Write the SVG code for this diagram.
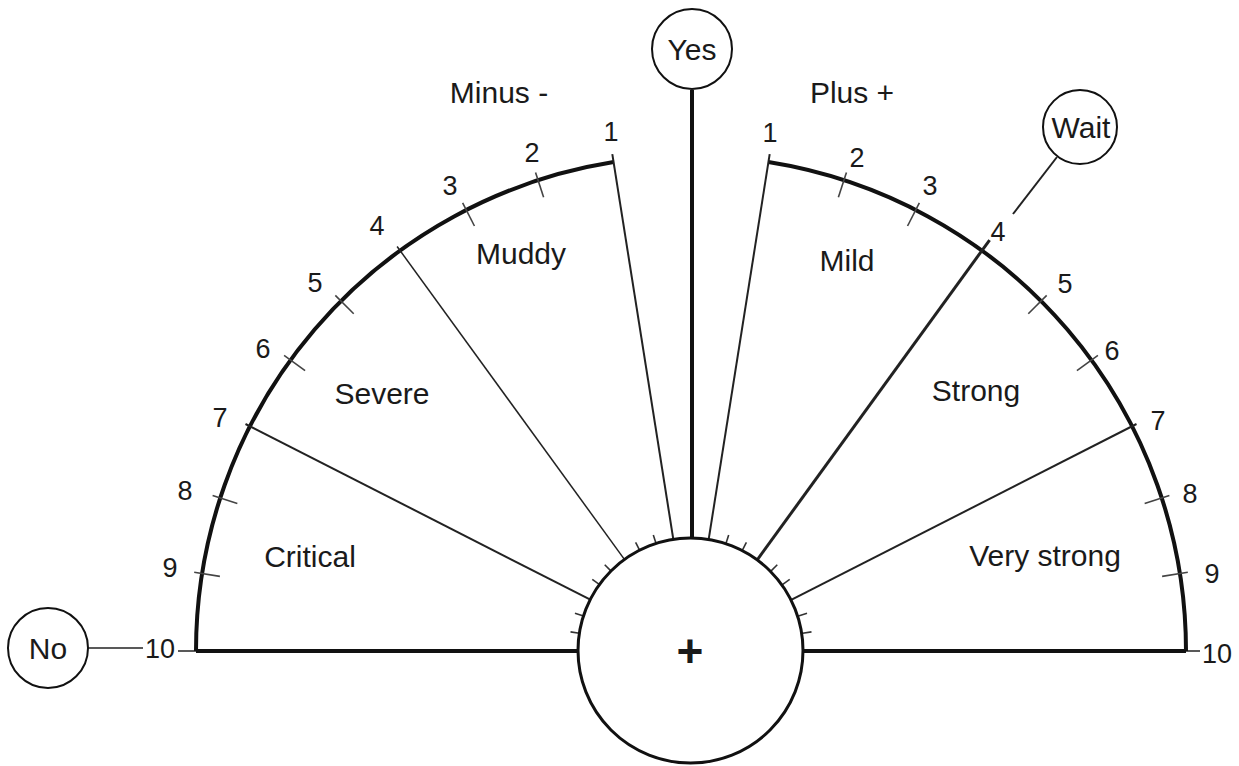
<svg xmlns="http://www.w3.org/2000/svg" width="1239" height="766" viewBox="0 0 1239 766">
<style>
  .t{font-family:"Liberation Sans",Arial,sans-serif;fill:#1a1a1a;text-anchor:middle}
  .num{font-size:27px}
  .lab{font-size:30px}
  .node{fill:#fff;stroke:#111;stroke-width:2}
  .arc{fill:none;stroke:#111;stroke-width:4}
  .base{stroke:#111;stroke-width:4}
  .rad{stroke:#222;stroke-width:2}
  .tick{stroke:#444;stroke-width:1.6}
  .itick{stroke:#333;stroke-width:1.6}
  .thin{stroke:#222;stroke-width:1.5}
</style>
<rect width="1239" height="766" fill="#fff"/>
<g id="connectors">
  <line class="base" x1="196" y1="651" x2="579" y2="651"/>
  <line class="base" x1="803" y1="651" x2="1186" y2="651"/>
  <line class="thin" x1="178" y1="651" x2="196" y2="651"/>
  <line class="thin" x1="1186" y1="651" x2="1200" y2="651"/>
  <path class="arc" d="M196 651 A495 495 0 0 1 613.6 162.1"/>
  <path class="arc" d="M768.4 162.1 A495 495 0 0 1 1186 651"/>
  <g transform="translate(691,651)">
    <g class="tick">
      <line x1="0" y1="-477" x2="0" y2="-503" transform="rotate(-18)"/>
      <line x1="0" y1="-477" x2="0" y2="-503" transform="rotate(-27)"/>
      <line x1="0" y1="-477" x2="0" y2="-503" transform="rotate(-45)"/>
      <line x1="0" y1="-477" x2="0" y2="-503" transform="rotate(-54)"/>
      <line x1="0" y1="-477" x2="0" y2="-503" transform="rotate(-72)"/>
      <line x1="0" y1="-477" x2="0" y2="-503" transform="rotate(-81)"/>
      <line x1="0" y1="-477" x2="0" y2="-503" transform="rotate(18)"/>
      <line x1="0" y1="-477" x2="0" y2="-503" transform="rotate(27)"/>
      <line x1="0" y1="-477" x2="0" y2="-503" transform="rotate(45)"/>
      <line x1="0" y1="-477" x2="0" y2="-503" transform="rotate(54)"/>
      <line x1="0" y1="-477" x2="0" y2="-503" transform="rotate(72)"/>
      <line x1="0" y1="-477" x2="0" y2="-503" transform="rotate(81)"/>
    </g>
    <g class="itick">
      <line x1="0" y1="-113" x2="0" y2="-122" transform="rotate(-18)"/>
      <line x1="0" y1="-113" x2="0" y2="-122" transform="rotate(-27)"/>
      <line x1="0" y1="-113" x2="0" y2="-122" transform="rotate(-45)"/>
      <line x1="0" y1="-113" x2="0" y2="-122" transform="rotate(-54)"/>
      <line x1="0" y1="-113" x2="0" y2="-122" transform="rotate(-72)"/>
      <line x1="0" y1="-113" x2="0" y2="-122" transform="rotate(-81)"/>
      <line x1="0" y1="-113" x2="0" y2="-122" transform="rotate(18)"/>
      <line x1="0" y1="-113" x2="0" y2="-122" transform="rotate(27)"/>
      <line x1="0" y1="-113" x2="0" y2="-122" transform="rotate(45)"/>
      <line x1="0" y1="-113" x2="0" y2="-122" transform="rotate(54)"/>
      <line x1="0" y1="-113" x2="0" y2="-122" transform="rotate(72)"/>
      <line x1="0" y1="-113" x2="0" y2="-122" transform="rotate(81)"/>
    </g>
    <line class="rad" x1="0" y1="-113" x2="0" y2="-503" transform="rotate(-9)"/>
    <line class="rad" x1="0" y1="-113" x2="0" y2="-500" transform="rotate(-36)" style="stroke-width:1.5"/>
    <line class="rad" x1="0" y1="-113" x2="0" y2="-500" transform="rotate(-63)"/>
    <line class="rad" x1="0" y1="-113" x2="0" y2="-503" transform="rotate(9)"/>
    <line class="rad" x1="0" y1="-113" x2="0" y2="-508" transform="rotate(36)" style="stroke-width:3"/>
    <line class="rad" x1="0" y1="-113" x2="0" y2="-500" transform="rotate(63)"/>
  </g>
  <line x1="692" y1="90" x2="692" y2="538" stroke="#111" stroke-width="4"/>
  <line class="thin" x1="88" y1="648" x2="143" y2="648"/>
  <line class="thin" x1="1013" y1="214" x2="1057" y2="157" style="stroke-width:2"/>
</g>
<g id="center">
  <circle cx="690.5" cy="650.5" r="112.5" fill="#fff" stroke="#111" stroke-width="3"/>
  <text class="t" x="690" y="667" style="font-size:46px;font-weight:bold">+</text>
</g>
<g id="yes">
  <circle class="node" cx="692" cy="49" r="40"/>
  <text class="t lab" x="692" y="60">Yes</text>
</g>
<g id="no">
  <circle class="node" cx="48" cy="648" r="40"/>
  <text class="t lab" x="48" y="659">No</text>
</g>
<g id="wait">
  <circle class="node" cx="1080" cy="127" r="37"/>
  <text class="t lab" x="1081" y="138">Wait</text>
</g>
<g id="labels">
  <text class="t lab" x="499" y="103">Minus -</text>
  <text class="t lab" x="852" y="103">Plus +</text>
  <text class="t lab" x="521" y="264">Muddy</text>
  <text class="t lab" x="847" y="271">Mild</text>
  <text class="t lab" x="382" y="404">Severe</text>
  <text class="t lab" x="976" y="401">Strong</text>
  <text class="t lab" x="310" y="567">Critical</text>
  <text class="t lab" x="1045" y="566">Very strong</text>
</g>
<g id="minus-scale" class="t num">
  <text x="611" y="141">1</text>
  <text x="532" y="162">2</text>
  <text x="450" y="195">3</text>
  <text x="377" y="235">4</text>
  <text x="315" y="292">5</text>
  <text x="263" y="358">6</text>
  <text x="220" y="427">7</text>
  <text x="185" y="500">8</text>
  <text x="170" y="577">9</text>
  <text x="160" y="658">10</text>
</g>
<g id="plus-scale" class="t num">
  <text x="770" y="142">1</text>
  <text x="857" y="167">2</text>
  <text x="930" y="195">3</text>
  <text x="998" y="241">4</text>
  <text x="1065" y="293">5</text>
  <text x="1112" y="360">6</text>
  <text x="1158" y="430">7</text>
  <text x="1190" y="503">8</text>
  <text x="1212" y="583">9</text>
  <text x="1217" y="663">10</text>
</g>
</svg>
